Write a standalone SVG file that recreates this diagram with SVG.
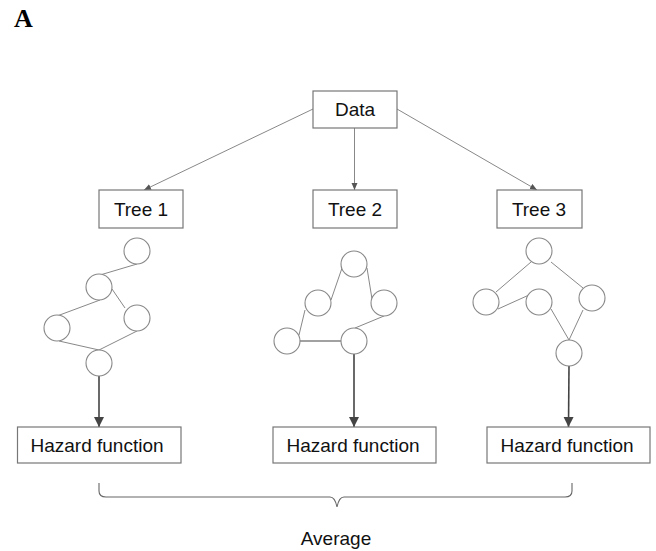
<svg xmlns="http://www.w3.org/2000/svg" width="656" height="551" viewBox="0 0 656 551">
<defs>
<style>
.box{fill:#fff;stroke:#777;stroke-width:1.2}
.lbl{font-family:"Liberation Sans",Arial,sans-serif;font-size:19px;fill:#111;text-anchor:middle}
.nd{fill:#fff;stroke:#888;stroke-width:1.1}
.ed{stroke:#888;stroke-width:1;fill:none}
.thin{stroke:#888;stroke-width:1;fill:none}
.thick{stroke:#444;stroke-width:1.6;fill:none}
</style>
<marker id="sa" markerUnits="userSpaceOnUse" markerWidth="8" markerHeight="8" refX="7" refY="3" orient="auto">
<path d="M0,0 L7,3 L0,6 Z" fill="#555"/>
</marker>
<marker id="la" markerUnits="userSpaceOnUse" markerWidth="12" markerHeight="12" refX="10" refY="5" orient="auto">
<path d="M0,0 L10,5 L0,10 Z" fill="#444"/>
</marker>
</defs>
<rect width="656" height="551" fill="#fff"/>
<text x="14" y="27" font-family="Liberation Serif,'Times New Roman',serif" font-weight="bold" font-size="26" fill="#000">A</text>

<g id="connectors">
<line class="thin" x1="313" y1="109" x2="144" y2="190" marker-end="url(#sa)"/>
<line class="thin" x1="354.5" y1="128" x2="354.5" y2="190" stroke="#555" marker-end="url(#sa)"/>
<line class="thin" x1="397" y1="109" x2="537" y2="190" marker-end="url(#sa)"/>
<line class="thick" x1="99" y1="376" x2="99" y2="427" marker-end="url(#la)"/>
<line class="thick" x1="354" y1="354" x2="354" y2="427" marker-end="url(#la)"/>
<line class="thick" x1="569" y1="366" x2="568.5" y2="427" marker-end="url(#la)"/>
</g>

<g id="data">
<rect class="box" x="313" y="91" width="84" height="37"/>
<text class="lbl" x="355" y="116">Data</text>
</g>
<g id="tree1">
<rect class="box" x="99" y="190" width="84" height="38"/>
<text class="lbl" x="141" y="216">Tree 1</text>
</g>
<g id="tree2">
<rect class="box" x="313" y="190" width="84" height="38"/>
<text class="lbl" x="355" y="216">Tree 2</text>
</g>
<g id="tree3">
<rect class="box" x="497" y="190" width="85" height="38"/>
<text class="lbl" x="539" y="216">Tree 3</text>
</g>

<g id="tree1-graph">
<line class="ed" x1="137" y1="264" x2="100" y2="275"/>
<line class="ed" x1="112" y1="289" x2="125" y2="308"/>
<line class="ed" x1="100" y1="300" x2="57" y2="316"/>
<line class="ed" x1="59" y1="341" x2="99" y2="350"/>
<line class="ed" x1="137" y1="331" x2="99" y2="350"/>
<circle class="nd" cx="137" cy="251" r="13"/>
<circle class="nd" cx="99" cy="287" r="13"/>
<circle class="nd" cx="137" cy="318" r="13"/>
<circle class="nd" cx="57" cy="328" r="13"/>
<circle class="nd" cx="99" cy="363" r="13"/>
</g>

<g id="tree2-graph">
<line class="ed" x1="342" y1="268" x2="331" y2="300"/>
<line class="ed" x1="367" y1="268" x2="372" y2="299"/>
<line class="ed" x1="305" y1="310" x2="299" y2="335"/>
<line x1="299" y1="341" x2="341" y2="341" stroke="#444" stroke-width="1.2"/>
<line class="ed" x1="384" y1="316" x2="355" y2="328"/>
<circle class="nd" cx="354" cy="264" r="13"/>
<circle class="nd" cx="318" cy="303" r="13"/>
<circle class="nd" cx="384" cy="303" r="13"/>
<circle class="nd" cx="287" cy="341" r="13"/>
<circle class="nd" cx="354" cy="341" r="13"/>
</g>

<g id="tree3-graph">
<line class="ed" x1="531" y1="262" x2="496" y2="292"/>
<line class="ed" x1="551" y1="262" x2="583" y2="288"/>
<line class="ed" x1="498" y1="309" x2="529" y2="295"/>
<line class="ed" x1="551" y1="309" x2="569" y2="340"/>
<line class="ed" x1="583" y1="310" x2="569" y2="340"/>
<circle class="nd" cx="539" cy="251" r="13"/>
<circle class="nd" cx="486" cy="302" r="13"/>
<circle class="nd" cx="539" cy="302" r="13"/>
<circle class="nd" cx="592" cy="298" r="13"/>
<circle class="nd" cx="569" cy="353" r="13"/>
</g>

<g id="hazard1">
<rect class="box" x="17.5" y="427" width="163.5" height="36"/>
<text class="lbl" x="97" y="452">Hazard function</text>
</g>
<g id="hazard2">
<rect class="box" x="273" y="427" width="163" height="36"/>
<text class="lbl" x="353" y="452">Hazard function</text>
</g>
<g id="hazard3">
<rect class="box" x="487" y="427" width="163" height="36"/>
<text class="lbl" x="567" y="452">Hazard function</text>
</g>

<g id="average">
<path d="M99,483 L99,491 Q99,497 106,497 L330,497 Q335,497 337,507 Q339,497 344,497 L565,497 Q572,497 572,491 L572,483" fill="none" stroke="#666" stroke-width="1.1"/>
<text class="lbl" x="336" y="545">Average</text>
</g>
</svg>
